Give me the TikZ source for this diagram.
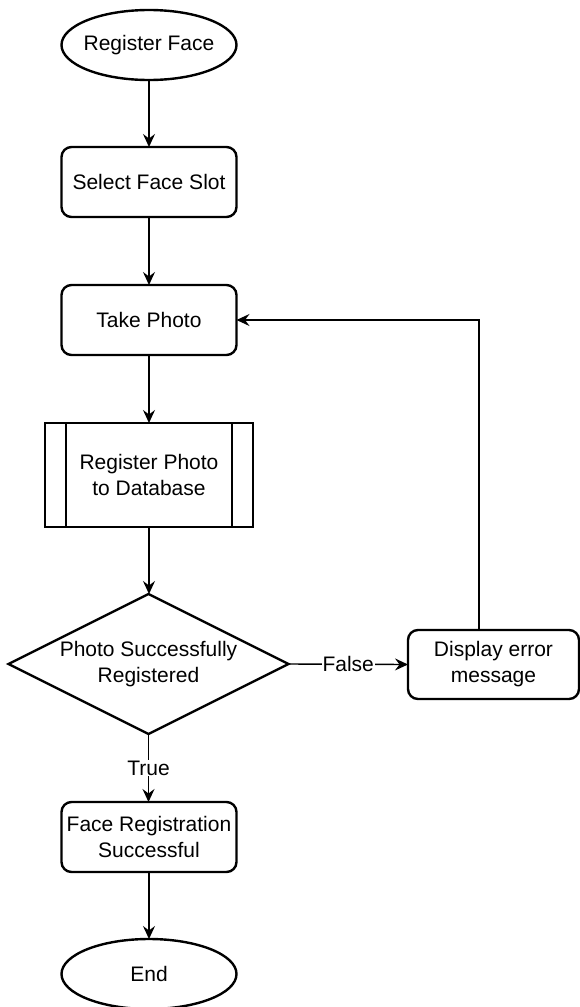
\documentclass[tikz,border=0pt]{standalone}
\usepackage{fontspec}
\setmainfont{Liberation Sans}
\usetikzlibrary{shapes.geometric,arrows.meta}

\tikzset{
  base/.style={draw=black, line width=2.4pt, inner sep=0pt, outer sep=0pt,
    align=center, font=\fontsize{21}{26}\selectfont},
  terminal/.style={base, ellipse, minimum width=175pt, minimum height=70pt},
  stepbox/.style={base, rounded corners=10pt, minimum width=175pt, minimum height=70pt},
  subproc/.style={base, line width=1.5pt, minimum width=208pt, minimum height=104pt},
  decision/.style={base, diamond, minimum width=280pt, minimum height=140pt},
  mid/.style={font=\fontsize{21}{26}\selectfont, align=center, inner sep=0pt},
  conn/.style={line width=1.4pt, -{Stealth[length=13pt,width=12pt,inset=4.5pt]}},
  edgelabel/.style={font=\fontsize{21}{26}\selectfont, fill=white, inner sep=1pt},
}

\begin{document}
\begin{tikzpicture}[x=1pt, y=-1pt]
  \useasboundingbox (0,0) rectangle (580,1007);

  % flow boxes
  \node[terminal, label={[mid]center:Register Face}] (start) at (149,45) {};
  \node[stepbox] (slot) at (149,182) {Select Face Slot};
  \node[stepbox] (photo) at (149,320) {Take Photo};
  \node[subproc] (store) at (149,475) {Register Photo\\to Database};
  \draw[line width=1.5pt] ([xshift=21pt]store.north west) -- ([xshift=21pt]store.south west);
  \draw[line width=1.5pt] ([xshift=-21pt]store.north east) -- ([xshift=-21pt]store.south east);
  \node[decision, label={[mid]center:Photo Successfully\\Registered}] (check) at (148.5,664) {};
  \node[stepbox, minimum width=171pt, minimum height=69pt] (err) at (493.5,664.5) {Display error\\message};
  \node[stepbox] (done) at (149,837) {Face Registration\\Successful};
  \node[terminal, label={[mid]center:End}] (finish) at (149,974) {};

  % connectors
  \coordinate (bend) at (479,320);
  \draw[conn] (start) -- (slot);
  \draw[conn] (slot) -- (photo);
  \draw[conn] (photo) -- (store);
  \draw[conn] (store) -- (store |- check.north);
  \draw[conn] (check.east) -- node[edgelabel] {False} (err.west);
  \draw[conn] (bend |- err.north) -- (bend) -- (photo.east);
  \draw[conn] (check.south) -- node[edgelabel] {True} (check.south |- done.north);
  \draw[conn] (done) -- (finish);
\end{tikzpicture}
\end{document}
